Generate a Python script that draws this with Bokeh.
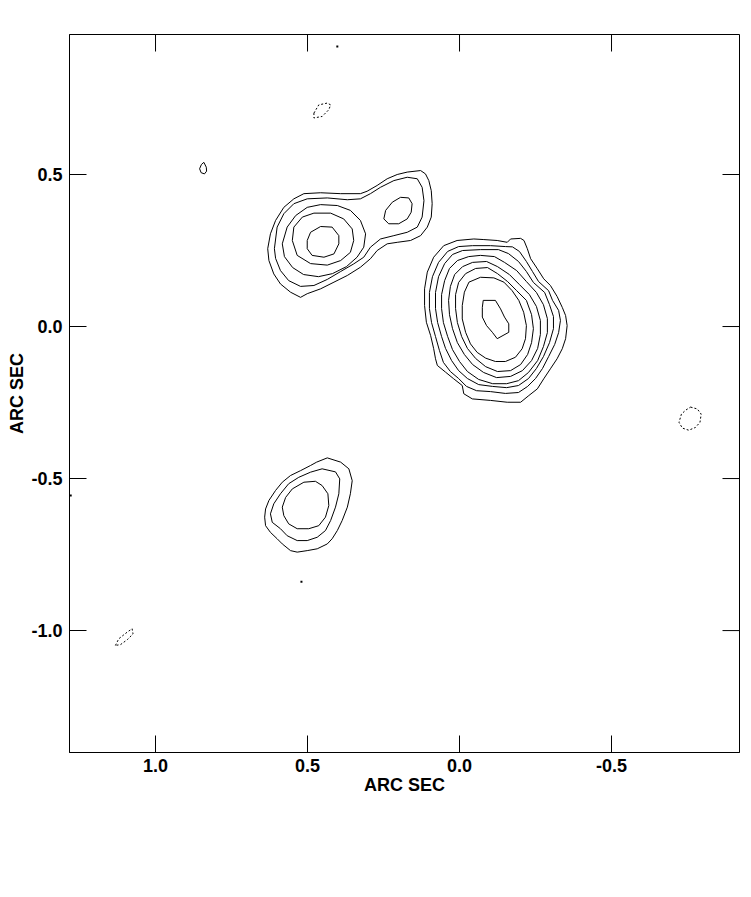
from bokeh.plotting import figure
from bokeh.models import Range1d, FixedTicker, PrintfTickFormatter
from bokeh.embed import file_html
from bokeh.resources import INLINE

# ---------------- data (arc sec) ----------------
x_ticks = [1.0, 0.5, 0.0, -0.5, -1.0]
y_ticks = [0.5, 0.0, -0.5, -1.0]
x_limits = (1.283, -0.921)
y_limits = (-1.401, 0.9605)

# Core component A (eight nested positive contours)
A1_x = [0.008, 0.052, 0.085, 0.106, 0.115, 0.115, 0.109, 0.095, 0.085, 0.079, 0.073, 0.046, 0.019, -0.009, -0.014, -0.042, -0.102, -0.157, -0.201, -0.228, -0.256, -0.277, -0.299, -0.321, -0.338, -0.349, -0.354, -0.349, -0.338, -0.321, -0.299, -0.277, -0.256, -0.234, -0.223, -0.212, -0.201, -0.168, -0.157, -0.124, -0.080, -0.047]
A1_y = [0.283, 0.266, 0.228, 0.179, 0.124, 0.069, 0.014, -0.030, -0.073, -0.106, -0.128, -0.150, -0.172, -0.194, -0.221, -0.238, -0.243, -0.249, -0.249, -0.227, -0.205, -0.172, -0.139, -0.106, -0.073, -0.040, 0.003, 0.036, 0.063, 0.099, 0.135, 0.157, 0.190, 0.223, 0.256, 0.283, 0.290, 0.288, 0.277, 0.283, 0.286, 0.288]
A2_x = [0.003, 0.039, 0.069, 0.089, 0.099, 0.099, 0.092, 0.079, 0.066, 0.053, 0.030, 0.003, -0.023, -0.056, -0.102, -0.151, -0.194, -0.224, -0.250, -0.273, -0.293, -0.313, -0.326, -0.332, -0.326, -0.306, -0.293, -0.260, -0.240, -0.220, -0.197, -0.174, -0.151, -0.102, -0.043]
A2_y = [0.263, 0.247, 0.211, 0.164, 0.112, 0.059, 0.013, -0.033, -0.079, -0.118, -0.148, -0.171, -0.197, -0.211, -0.214, -0.220, -0.217, -0.197, -0.171, -0.138, -0.099, -0.059, -0.020, 0.020, 0.053, 0.086, 0.118, 0.148, 0.181, 0.214, 0.247, 0.262, 0.263, 0.266, 0.266]
A3_x = [-0.010, 0.023, 0.049, 0.069, 0.079, 0.079, 0.072, 0.059, 0.046, 0.026, 0.003, -0.026, -0.063, -0.109, -0.155, -0.194, -0.227, -0.253, -0.276, -0.296, -0.309, -0.309, -0.296, -0.280, -0.243, -0.220, -0.194, -0.161, -0.128, -0.069]
A3_y = [0.250, 0.237, 0.207, 0.164, 0.112, 0.059, 0.013, -0.033, -0.072, -0.112, -0.145, -0.171, -0.191, -0.197, -0.201, -0.194, -0.171, -0.138, -0.099, -0.053, -0.007, 0.033, 0.072, 0.112, 0.145, 0.181, 0.214, 0.240, 0.253, 0.253]
A4_x = [-0.030, 0.007, 0.033, 0.049, 0.059, 0.059, 0.053, 0.039, 0.023, 0.000, -0.026, -0.063, -0.109, -0.155, -0.194, -0.227, -0.257, -0.276, -0.289, -0.289, -0.276, -0.253, -0.220, -0.188, -0.148, -0.115, -0.069]
A4_y = [0.230, 0.217, 0.191, 0.151, 0.105, 0.059, 0.013, -0.033, -0.076, -0.115, -0.148, -0.174, -0.188, -0.188, -0.178, -0.151, -0.112, -0.066, -0.020, 0.026, 0.072, 0.112, 0.148, 0.184, 0.211, 0.230, 0.234]
A5_x = [-0.043, -0.010, 0.016, 0.030, 0.036, 0.033, 0.023, 0.007, -0.016, -0.043, -0.079, -0.122, -0.168, -0.207, -0.237, -0.257, -0.266, -0.266, -0.253, -0.230, -0.197, -0.164, -0.125, -0.089]
A5_y = [0.211, 0.197, 0.171, 0.132, 0.086, 0.039, -0.007, -0.053, -0.092, -0.125, -0.151, -0.168, -0.164, -0.145, -0.112, -0.072, -0.026, 0.020, 0.066, 0.105, 0.138, 0.171, 0.197, 0.214]
A6_x = [-0.053, -0.020, 0.003, 0.013, 0.013, 0.007, -0.007, -0.026, -0.053, -0.086, -0.125, -0.168, -0.201, -0.224, -0.237, -0.243, -0.237, -0.220, -0.188, -0.158, -0.125, -0.092]
A6_y = [0.191, 0.174, 0.145, 0.105, 0.059, 0.013, -0.033, -0.072, -0.105, -0.132, -0.148, -0.145, -0.125, -0.092, -0.053, -0.007, 0.039, 0.086, 0.118, 0.148, 0.174, 0.194]
A7_x = [-0.031, -0.069, -0.113, -0.146, -0.173, -0.195, -0.211, -0.220, -0.217, -0.206, -0.184, -0.151, -0.118, -0.086, -0.058, -0.036, -0.020, -0.009, -0.009, -0.016]
A7_y = [0.146, 0.162, 0.160, 0.146, 0.118, 0.086, 0.047, 0.003, -0.040, -0.073, -0.101, -0.115, -0.115, -0.104, -0.085, -0.057, -0.019, 0.025, 0.069, 0.113]
A8_x = [-0.078, -0.118, -0.135, -0.148, -0.162, -0.162, -0.124, -0.108, -0.089, -0.075, -0.075]
A8_y = [0.086, 0.086, 0.058, 0.031, 0.009, -0.019, -0.040, -0.019, 0.003, 0.031, 0.063]

# Component B with the knot to its west (five levels + knot)
B1_x = [0.631, 0.622, 0.605, 0.578, 0.545, 0.512, 0.457, 0.391, 0.326, 0.304, 0.271, 0.238, 0.205, 0.172, 0.128, 0.112, 0.101, 0.093, 0.090, 0.093, 0.106, 0.128, 0.161, 0.205, 0.238, 0.271, 0.293, 0.326, 0.369, 0.413, 0.457, 0.501, 0.523, 0.556, 0.589, 0.611, 0.627]
B1_y = [0.256, 0.305, 0.349, 0.392, 0.420, 0.437, 0.440, 0.437, 0.437, 0.445, 0.464, 0.486, 0.500, 0.508, 0.513, 0.502, 0.480, 0.447, 0.404, 0.360, 0.327, 0.299, 0.283, 0.277, 0.272, 0.250, 0.223, 0.195, 0.168, 0.146, 0.124, 0.108, 0.096, 0.113, 0.140, 0.173, 0.217]
B2_x = [0.609, 0.600, 0.578, 0.545, 0.501, 0.435, 0.369, 0.326, 0.293, 0.260, 0.216, 0.172, 0.139, 0.123, 0.117, 0.123, 0.139, 0.172, 0.216, 0.260, 0.293, 0.315, 0.348, 0.391, 0.435, 0.479, 0.523, 0.562, 0.589, 0.605]
B2_y = [0.256, 0.327, 0.371, 0.404, 0.420, 0.423, 0.417, 0.420, 0.437, 0.458, 0.480, 0.491, 0.486, 0.458, 0.414, 0.360, 0.327, 0.310, 0.299, 0.288, 0.261, 0.228, 0.206, 0.181, 0.155, 0.135, 0.132, 0.151, 0.184, 0.224]
B3_x = [0.583, 0.567, 0.539, 0.501, 0.457, 0.402, 0.359, 0.326, 0.309, 0.315, 0.337, 0.372, 0.418, 0.464, 0.513, 0.549, 0.576]
B3_y = [0.272, 0.327, 0.365, 0.392, 0.401, 0.398, 0.382, 0.349, 0.305, 0.261, 0.228, 0.197, 0.174, 0.164, 0.171, 0.194, 0.230]
B4_x = [0.550, 0.545, 0.517, 0.479, 0.424, 0.381, 0.353, 0.348, 0.359, 0.391, 0.435, 0.490, 0.534]
B4_y = [0.283, 0.327, 0.360, 0.373, 0.373, 0.354, 0.321, 0.283, 0.244, 0.217, 0.202, 0.207, 0.234]
B5_x = [0.501, 0.490, 0.457, 0.419, 0.397, 0.397, 0.413, 0.446, 0.485, 0.501]
B5_y = [0.283, 0.310, 0.329, 0.327, 0.299, 0.272, 0.239, 0.228, 0.234, 0.256]
K_x = [0.249, 0.243, 0.221, 0.194, 0.167, 0.156, 0.159, 0.172, 0.200, 0.233]
K_y = [0.354, 0.382, 0.409, 0.425, 0.423, 0.404, 0.376, 0.354, 0.338, 0.338]

# Component C (three levels)
C1_x = [0.435, 0.391, 0.364, 0.353, 0.359, 0.369, 0.386, 0.402, 0.419, 0.435, 0.468, 0.501, 0.534, 0.556, 0.583, 0.600, 0.622, 0.638, 0.641, 0.638, 0.627, 0.605, 0.583, 0.556, 0.523, 0.490, 0.470]
C1_y = [-0.432, -0.446, -0.468, -0.507, -0.550, -0.594, -0.638, -0.671, -0.698, -0.715, -0.731, -0.737, -0.742, -0.737, -0.715, -0.698, -0.677, -0.655, -0.627, -0.600, -0.572, -0.539, -0.512, -0.490, -0.474, -0.457, -0.446]
C2_x = [0.452, 0.408, 0.394, 0.397, 0.408, 0.424, 0.441, 0.468, 0.501, 0.534, 0.567, 0.589, 0.616, 0.622, 0.611, 0.589, 0.562, 0.529, 0.490]
C2_y = [-0.468, -0.478, -0.501, -0.550, -0.594, -0.638, -0.671, -0.693, -0.704, -0.704, -0.688, -0.665, -0.644, -0.616, -0.583, -0.550, -0.517, -0.496, -0.479]
C3_x = [0.512, 0.474, 0.452, 0.433, 0.430, 0.441, 0.463, 0.496, 0.534, 0.562, 0.578, 0.583, 0.572, 0.550]
C3_y = [-0.512, -0.509, -0.523, -0.550, -0.589, -0.627, -0.655, -0.665, -0.665, -0.649, -0.622, -0.594, -0.562, -0.534]

# Small isolated positive contour
S_x = [0.841, 0.833, 0.832, 0.839, 0.850, 0.855, 0.849]
S_y = [0.540, 0.524, 0.511, 0.502, 0.506, 0.519, 0.533]

# Negative (dashed) contours
N1_x = [0.479, 0.463, 0.435, 0.424, 0.430, 0.452, 0.479]
N1_y = [0.702, 0.729, 0.735, 0.729, 0.713, 0.691, 0.686]
N2_x = [1.132, 1.121, 1.093, 1.077, 1.074, 1.093, 1.115]
N2_y = [-1.049, -1.027, -1.005, -0.994, -1.011, -1.030, -1.046]
N3_x = [-0.760, -0.782, -0.795, -0.791, -0.776, -0.754, -0.733, -0.722, -0.730, -0.744]
N3_y = [-0.265, -0.271, -0.288, -0.315, -0.332, -0.341, -0.334, -0.315, -0.288, -0.275]

# Single-pixel peaks
dot_x = [0.402, 0.520, 1.279]
dot_y = [0.921, -0.839, -0.556]

# ---------------- figure ----------------
FONT = "Liberation Sans"
FRAME_W, FRAME_H = 670, 718
TICK_LEN = 17

p = figure(
    frame_width=FRAME_W, frame_height=FRAME_H,
    x_range=Range1d(*x_limits), y_range=Range1d(*y_limits),
    output_backend="svg", toolbar_location=None,
    min_border_left=69, min_border_right=10, min_border_top=34, min_border_bottom=60,
    background_fill_color="white", border_fill_color="white",
)
p.outline_line_color = "black"
p.outline_line_width = 1
p.xgrid.visible = False
p.ygrid.visible = False

solid_xs = [A1_x, A2_x, A3_x, A4_x, A5_x, A6_x, A7_x, A8_x,
            B1_x, B2_x, B3_x, B4_x, B5_x, K_x, C1_x, C2_x, C3_x, S_x]
solid_ys = [A1_y, A2_y, A3_y, A4_y, A5_y, A6_y, A7_y, A8_y,
            B1_y, B2_y, B3_y, B4_y, B5_y, K_y, C1_y, C2_y, C3_y, S_y]
p.patches(solid_xs, solid_ys, fill_color=None, line_color="black", line_width=1)

p.patches([N1_x, N2_x, N3_x], [N1_y, N2_y, N3_y], fill_color=None,
          line_color="black", line_width=1, line_dash="2 2")

p.scatter(dot_x, dot_y, marker="square", size=2, fill_color="black", line_color=None)

# inward ticks on the top and right edges (mirroring the bottom/left axes)
dx = (x_limits[0] - x_limits[1]) / FRAME_W * TICK_LEN
dy = (y_limits[1] - y_limits[0]) / FRAME_H * TICK_LEN
xt_in = [t for t in x_ticks if x_limits[1] <= t <= x_limits[0]]
yt_in = [t for t in y_ticks if y_limits[0] <= t <= y_limits[1]]
p.segment(x0=xt_in, x1=xt_in, y0=[y_limits[1]] * len(xt_in), y1=[y_limits[1] - dy] * len(xt_in),
          line_color="black", line_width=1)
p.segment(x0=[x_limits[1]] * len(yt_in), x1=[x_limits[1] + dx] * len(yt_in), y0=yt_in, y1=yt_in,
          line_color="black", line_width=1)

def style_axis(ax):
    ax.axis_line_color = "black"
    ax.major_tick_line_color = "black"
    ax.major_tick_in = TICK_LEN
    ax.major_tick_out = 0
    ax.minor_tick_line_color = None
    ax.major_label_text_font = FONT
    ax.major_label_text_font_style = "bold"
    ax.major_label_text_font_size = "18px"
    ax.major_label_text_color = "black"
    ax.axis_label_text_font = FONT
    ax.axis_label_text_font_style = "bold"
    ax.axis_label_text_font_size = "18px"
    ax.axis_label_text_color = "black"

xb = p.xaxis[0]
xb.ticker = FixedTicker(ticks=x_ticks)
xb.formatter = PrintfTickFormatter(format="%.1f")
xb.axis_label = "ARC SEC"
style_axis(xb)
xb.major_label_standoff = 6
xb.axis_label_standoff = 0

yl = p.yaxis[0]
yl.ticker = FixedTicker(ticks=y_ticks)
yl.formatter = PrintfTickFormatter(format="%.1f")
yl.axis_label = "ARC SEC"
style_axis(yl)
yl.major_label_standoff = 7
yl.axis_label_standoff = 1

open("out.html", "w").write(file_html(p, INLINE))
